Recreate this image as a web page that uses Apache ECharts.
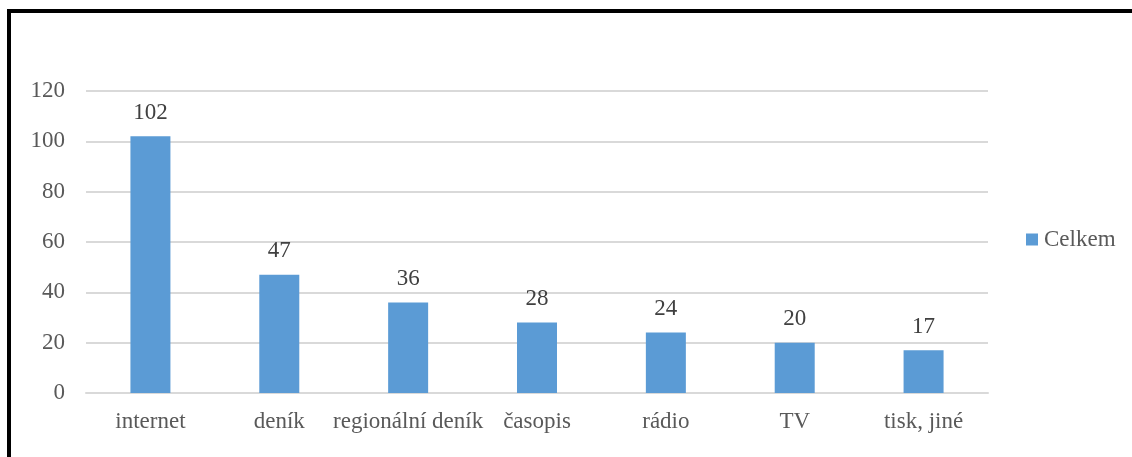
<!DOCTYPE html>
<html>
<head>
<meta charset="utf-8">
<script src="https://cdn.jsdelivr.net/npm/echarts@6/dist/echarts.min.js"></script>
<style>
  html, body { margin: 0; padding: 0; background: #fff; }
  #chart { width: 1132px; height: 457px; }
</style>
</head>
<body>
<div id="chart"></div>
<script>
// kategorie a hodnoty
const categories = ['internet', 'deník', 'regionální deník', 'časopis', 'rádio', 'TV', 'tisk, jiné']
const celkem = [102, 47, 36, 28, 24, 20, 17]
const seriesName = 'Celkem'

const fontFamily = '"Liberation Serif", "Times New Roman", serif'

const chart = echarts.init(document.getElementById('chart'))
chart.setOption({
  animation: false,
  textStyle: { fontFamily: fontFamily },
  graphic: [{
    type: 'rect',
    shape: { x: 9, y: 11, width: 1300, height: 600 },
    style: { fill: 'none', stroke: '#000', lineWidth: 4 }
  }],
  legend: {
    data: [seriesName],
    icon: 'rect',
    orient: 'vertical',
    left: 1021,
    top: 223,
    itemWidth: 12,
    itemHeight: 12,
    itemGap: 5,
    textStyle: { fontFamily: fontFamily, fontSize: 23, color: '#595959', padding: [0, 0, 0, 1] }
  },
  grid: { left: 86, right: 144, top: 91, bottom: 64 },
  xAxis: {
    type: 'category',
    data: categories,
    axisLine: { lineStyle: { color: '#d9d9d9', width: 2 } },
    axisTick: { show: false },
    axisLabel: { fontFamily: fontFamily, fontSize: 23, color: '#595959', margin: 17, interval: 0 }
  },
  yAxis: {
    type: 'value',
    min: 0,
    max: 120,
    interval: 20,
    axisLine: { show: false },
    axisTick: { show: false },
    splitLine: { lineStyle: { color: '#d9d9d9', width: 2 } },
    axisLabel: { fontFamily: fontFamily, fontSize: 23, color: '#595959', margin: 21 }
  },
  series: [{
    name: seriesName,
    type: 'bar',
    data: celkem,
    barWidth: 40,
    itemStyle: { color: '#5b9bd5' },
    label: {
      show: true,
      position: 'top',
      distance: 12,
      fontFamily: fontFamily,
      fontSize: 23,
      color: '#404040'
    }
  }]
})
</script>
</body>
</html>
